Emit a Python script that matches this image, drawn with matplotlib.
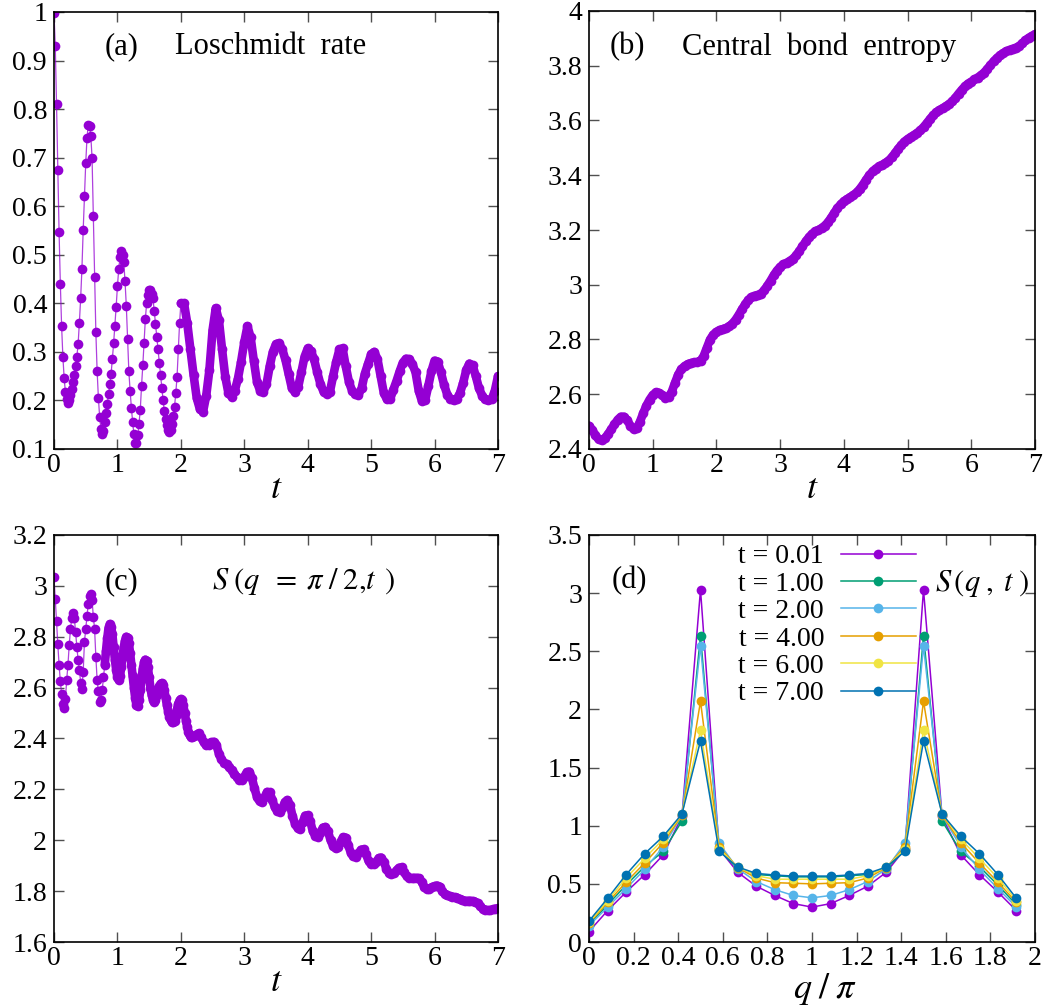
import numpy as np
import matplotlib
matplotlib.use('Agg')
import matplotlib.pyplot as plt
from matplotlib.ticker import MultipleLocator, FuncFormatter

plt.rcParams['font.family'] = 'serif'
plt.rcParams['font.serif'] = ['Liberation Serif', 'DejaVu Serif']
plt.rcParams['mathtext.fontset'] = 'stix'

# (a) Loschmidt rate: dt = 0.02 for t < 2, then dt = 0.05
lo_early = [
    0.998, 0.930, 0.810, 0.675, 0.547, 0.440, 0.353, 0.290, 0.246, 0.217,
    0.202, 0.195, 0.200, 0.211, 0.223, 0.238, 0.253, 0.270, 0.290, 0.316,
    0.360, 0.410, 0.470, 0.550, 0.622, 0.688, 0.740, 0.768, 0.765, 0.745,
    0.700, 0.580, 0.455, 0.340, 0.260, 0.205, 0.165, 0.142, 0.130, 0.138,
    0.155, 0.174, 0.193, 0.213, 0.233, 0.255, 0.285, 0.318, 0.354, 0.393,
    0.435, 0.470, 0.495, 0.508, 0.500, 0.485, 0.445, 0.395, 0.327, 0.260,
    0.220, 0.185, 0.155, 0.130, 0.113, 0.112, 0.128, 0.152, 0.180, 0.230,
    0.272, 0.318, 0.367, 0.400, 0.418, 0.427, 0.428, 0.420, 0.410, 0.385,
    0.357, 0.331, 0.305, 0.278, 0.252, 0.225, 0.200, 0.178, 0.162, 0.149,
    0.140, 0.136, 0.140, 0.152, 0.167, 0.187, 0.215, 0.249, 0.305, 0.360,
]
lo_late = [
    0.400, 0.400, 0.360, 0.306, 0.253, 0.205, 0.182, 0.177, 0.210, 0.263,
    0.345, 0.390, 0.365, 0.305, 0.249, 0.215, 0.208, 0.220, 0.245, 0.280,
    0.320, 0.353, 0.330, 0.282, 0.238, 0.220, 0.218, 0.233, 0.270, 0.300,
    0.316, 0.318, 0.305, 0.283, 0.254, 0.225, 0.217, 0.228, 0.258, 0.290,
    0.307, 0.302, 0.285, 0.258, 0.234, 0.218, 0.214, 0.218, 0.250, 0.280,
    0.305, 0.307, 0.270, 0.238, 0.220, 0.213, 0.212, 0.225, 0.255, 0.275,
    0.295, 0.300, 0.285, 0.250, 0.215, 0.202, 0.203, 0.222, 0.240, 0.260,
    0.278, 0.286, 0.285, 0.275, 0.258, 0.220, 0.199, 0.200, 0.229, 0.260,
    0.282, 0.280, 0.258, 0.232, 0.212, 0.203, 0.200, 0.203, 0.215, 0.236,
    0.263, 0.276, 0.272, 0.250, 0.225, 0.210, 0.202, 0.200, 0.202, 0.220,
    0.250,
]

# (b) central bond entropy, dt = 0.05
entropy = [
    2.485, 2.470, 2.450, 2.435, 2.432, 2.440, 2.455, 2.472, 2.490, 2.507,
    2.518, 2.518, 2.505, 2.485, 2.472, 2.475, 2.500, 2.530, 2.558, 2.580,
    2.597, 2.607, 2.605, 2.597, 2.588, 2.590, 2.610, 2.642, 2.672, 2.692,
    2.703, 2.710, 2.714, 2.716, 2.718, 2.722, 2.740, 2.770, 2.800, 2.818,
    2.828, 2.835, 2.838, 2.842, 2.848, 2.858, 2.872, 2.890, 2.910, 2.928,
    2.945, 2.955, 2.960, 2.963, 2.968, 2.980, 2.997, 3.015, 3.035, 3.052,
    3.065, 3.075, 3.080, 3.087, 3.095, 3.107, 3.123, 3.140, 3.158, 3.173,
    3.186, 3.195, 3.200, 3.207, 3.216, 3.228, 3.245, 3.263, 3.280, 3.294,
    3.305, 3.313, 3.320, 3.328, 3.337, 3.350, 3.366, 3.384, 3.400, 3.414,
    3.424, 3.432, 3.438, 3.445, 3.453, 3.465, 3.480, 3.496, 3.510, 3.523,
    3.532, 3.540, 3.547, 3.555, 3.564, 3.576, 3.590, 3.605, 3.619, 3.630,
    3.638, 3.645, 3.652, 3.660, 3.670, 3.683, 3.698, 3.712, 3.725, 3.735,
    3.742, 3.750, 3.757, 3.765, 3.775, 3.788, 3.802, 3.816, 3.828, 3.838,
    3.846, 3.853, 3.858, 3.862, 3.866, 3.872, 3.882, 3.893, 3.902, 3.909,
    3.915,
]

# (c) S(q = pi/2, t): dt = 0.02 up to t = 2.18, then dt = 0.04
sq_early = [
    3.035, 2.950, 2.860, 2.770, 2.690, 2.625, 2.575, 2.535, 2.518, 2.555,
    2.630, 2.690, 2.767, 2.830, 2.875, 2.892, 2.875, 2.820, 2.760, 2.710,
    2.669, 2.620, 2.595, 2.660, 2.780, 2.830, 2.880, 2.930, 2.962, 2.968,
    2.945, 2.879, 2.830, 2.720, 2.630, 2.585, 2.545, 2.550, 2.590, 2.640,
    2.690, 2.745, 2.795, 2.835, 2.850, 2.840, 2.810, 2.760, 2.710, 2.670,
    2.640, 2.630, 2.645, 2.680, 2.720, 2.760, 2.785, 2.800, 2.797, 2.775,
    2.735, 2.690, 2.645, 2.600, 2.560, 2.530, 2.528, 2.550, 2.590, 2.635,
    2.675, 2.700, 2.710, 2.705, 2.680, 2.640, 2.600, 2.570, 2.552, 2.545,
    2.550, 2.570, 2.590, 2.605, 2.615, 2.618, 2.612, 2.590, 2.560, 2.530,
    2.505, 2.485, 2.472, 2.465, 2.465, 2.470, 2.490, 2.515, 2.537, 2.550,
    2.555, 2.550, 2.530, 2.500, 2.470, 2.445, 2.425, 2.412, 2.406, 2.405,
]
sq_late = [
    2.408, 2.415, 2.420, 2.405, 2.385, 2.373, 2.375, 2.385, 2.387, 2.375,
    2.340, 2.318, 2.305, 2.298, 2.288, 2.275, 2.262, 2.248, 2.238, 2.237,
    2.250, 2.268, 2.270, 2.245, 2.205, 2.170, 2.153, 2.152, 2.170, 2.190,
    2.188, 2.160, 2.130, 2.115, 2.112, 2.125, 2.150, 2.158, 2.140, 2.095,
    2.065, 2.048, 2.046, 2.070, 2.097, 2.098, 2.075, 2.035, 2.017, 2.014,
    2.030, 2.050, 2.052, 2.035, 2.000, 1.978, 1.968, 1.972, 1.995, 2.012,
    2.010, 1.980, 1.950, 1.937, 1.936, 1.948, 1.963, 1.964, 1.945, 1.918,
    1.907, 1.905, 1.915, 1.930, 1.932, 1.915, 1.888, 1.872, 1.866, 1.870,
    1.882, 1.892, 1.893, 1.875, 1.858, 1.852, 1.851, 1.852, 1.852, 1.850,
    1.835, 1.815, 1.808, 1.810, 1.816, 1.820, 1.822, 1.818, 1.800, 1.788,
    1.783, 1.780, 1.778, 1.776, 1.774, 1.768, 1.764, 1.762, 1.762, 1.762,
    1.761, 1.758, 1.752, 1.740, 1.730, 1.727, 1.725, 1.725, 1.728, 1.731,
    1.732,
]

# (d) S(q, t) on the 24 momenta q/pi = k/12
q_over_pi = [k / 12 for k in range(24)]
sqt_labels = ['t = 0.01', 't = 1.00', 't = 2.00', 't = 4.00', 't = 6.00', 't = 7.00']
sqt_colors = ['#9400d3', '#009e73', '#56b4e9', '#e69f00', '#f0e442', '#0072b2']
sqt_values = [
    [0.09, 0.27, 0.43, 0.58, 0.75, 1.08, 3.03, 0.80, 0.60, 0.48, 0.40, 0.33,
     0.30, 0.33, 0.40, 0.48, 0.60, 0.80, 3.03, 1.08, 0.75, 0.58, 0.43, 0.27],
    [0.15, 0.32, 0.49, 0.65, 0.78, 1.04, 2.63, 0.79, 0.63, 0.58, 0.57, 0.56,
     0.56, 0.56, 0.57, 0.58, 0.63, 0.79, 2.63, 1.04, 0.78, 0.65, 0.49, 0.32],
    [0.14, 0.30, 0.46, 0.625, 0.82, 1.09, 2.545, 0.85, 0.63, 0.52, 0.45, 0.40,
     0.38, 0.40, 0.45, 0.52, 0.63, 0.85, 2.545, 1.09, 0.82, 0.625, 0.46, 0.30],
    [0.16, 0.34, 0.515, 0.68, 0.855, 1.09, 2.07, 0.82, 0.64, 0.55, 0.51, 0.505,
     0.50, 0.505, 0.51, 0.55, 0.64, 0.82, 2.07, 1.09, 0.855, 0.68, 0.515, 0.34],
    [0.17, 0.355, 0.55, 0.72, 0.885, 1.10, 1.82, 0.80, 0.645, 0.57, 0.54, 0.54,
     0.54, 0.54, 0.54, 0.57, 0.645, 0.80, 1.82, 1.10, 0.885, 0.72, 0.55, 0.355],
    [0.18, 0.375, 0.58, 0.76, 0.91, 1.10, 1.73, 0.78, 0.645, 0.59, 0.576, 0.567,
     0.567, 0.567, 0.576, 0.59, 0.645, 0.78, 1.73, 1.10, 0.91, 0.76, 0.58, 0.375],
]

PURPLE = '#9400d3'
TICK_FS = 20
TEXT_FS = 22
LABEL_FS = 26


def style_axes(ax, xmax, xstep, ylo, yhi, ystep):
    ax.set_xlim(0, xmax)
    ax.set_ylim(ylo, yhi)
    ax.xaxis.set_major_locator(MultipleLocator(xstep))
    ax.yaxis.set_major_locator(MultipleLocator(ystep))
    fmt = FuncFormatter(lambda v, p: '%g' % round(v, 6))
    ax.xaxis.set_major_formatter(fmt)
    ax.yaxis.set_major_formatter(fmt)
    ax.tick_params(direction='in', top=True, right=True, length=7, width=1.0,
                   color='#505050', labelsize=TICK_FS)
    ax.tick_params(axis='x', pad=3)
    ax.tick_params(axis='y', pad=5)
    for s in ax.spines.values():
        s.set_linewidth(1.2)


def dotted_series(ax, t, v, thick_from=None):
    t = np.asarray(t)
    v = np.asarray(v)
    if thick_from is not None:
        m = t >= thick_from
        ax.plot(t[m], v[m], '-', color=PURPLE, lw=6.2, solid_capstyle='round',
                solid_joinstyle='round')
    ax.plot(t, v, '-', color=PURPLE, lw=0.9, alpha=0.75)
    ax.plot(t, v, 'o', color=PURPLE, ms=7, mew=0)


def main():
    t_lo = np.concatenate([np.round(0.02 * np.arange(len(lo_early)), 2),
                           np.round(2.0 + 0.05 * np.arange(len(lo_late)), 2)])
    v_lo = np.array(lo_early + lo_late)
    t_en = np.round(0.05 * np.arange(len(entropy)), 2)
    t_sq = np.concatenate([np.round(0.02 * np.arange(len(sq_early)), 2),
                           np.round(2.2 + 0.04 * np.arange(len(sq_late)), 2)])
    v_sq = np.array(sq_early + sq_late)

    W, H = 1058, 1006
    fig = plt.figure(figsize=(W / 100, H / 100), dpi=100)

    def box(l, r, t, b):
        return [l / W, 1 - b / H, (r - l) / W, (b - t) / H]

    ax_a = fig.add_axes(box(54, 498, 12, 449))
    ax_b = fig.add_axes(box(589, 1035, 11, 449))
    ax_c = fig.add_axes(box(54, 498, 535, 942))
    ax_d = fig.add_axes(box(589, 1035, 535, 942))

    # (a)
    dotted_series(ax_a, t_lo, v_lo, thick_from=2.0)
    style_axes(ax_a, 7, 1, 0.1, 1.0, 0.1)
    ax_a.set_xlabel('$t$', fontsize=LABEL_FS, labelpad=-4)
    ax_a.text(0.115, 0.92, '(a)', transform=ax_a.transAxes, fontsize=TEXT_FS, va='center')
    ax_a.text(0.2725, 0.92, 'Loschmidt  rate', transform=ax_a.transAxes,
              fontsize=TEXT_FS, va='center')

    # (b)
    dotted_series(ax_b, t_en, entropy, thick_from=0.0)
    style_axes(ax_b, 7, 1, 2.4, 4.0, 0.2)
    ax_b.set_xlabel('$t$', fontsize=LABEL_FS, labelpad=-4)
    ax_b.text(0.047, 0.918, '(b)', transform=ax_b.transAxes, fontsize=TEXT_FS, va='center')
    ax_b.text(0.2085, 0.918, 'Central  bond  entropy', transform=ax_b.transAxes,
              fontsize=TEXT_FS, va='center')

    # (c)
    dotted_series(ax_c, t_sq, v_sq, thick_from=0.8)
    style_axes(ax_c, 7, 1, 1.6, 3.2, 0.2)
    ax_c.set_xlabel('$t$', fontsize=LABEL_FS, labelpad=-4)
    ax_c.text(0.115, 0.885, '(c)', transform=ax_c.transAxes, fontsize=TEXT_FS, va='center')
    ax_c.text(0.355, 0.885, r'$S\;(q\;\;=\;\pi\;/\;2{,}t\;\,)$', transform=ax_c.transAxes,
              fontsize=TEXT_FS, va='center')

    # (d)
    for lab, col, vals in zip(sqt_labels, sqt_colors, sqt_values):
        ax_d.plot(q_over_pi, vals, '-o', color=col, lw=1.1, ms=7, mew=0, label=lab)
    style_axes(ax_d, 2, 0.2, 0, 3.5, 0.5)
    ax_d.set_xlabel(r'$q\;/\;\pi$', fontsize=LABEL_FS)
    ax_d.xaxis.set_label_coords(0.53, -0.072, transform=ax_d.transAxes)
    ax_d.xaxis.label.set_va('top')
    ax_d.text(0.0516, 0.889, '(d)', transform=ax_d.transAxes, fontsize=TEXT_FS, va='center')
    ax_d.text(0.776, 0.882, r'$S\,(q\;,\;t\;)$', transform=ax_d.transAxes,
              fontsize=TEXT_FS, va='center')
    ax_d.legend(loc='upper left', bbox_to_anchor=(0.335, 0.978), frameon=False,
                markerfirst=False, fontsize=20, handlelength=2.7, handletextpad=0.6,
                labelspacing=0.07, borderpad=0, borderaxespad=0, numpoints=1)

    fig.savefig('out.png', dpi=100)


if __name__ == '__main__':
    main()
